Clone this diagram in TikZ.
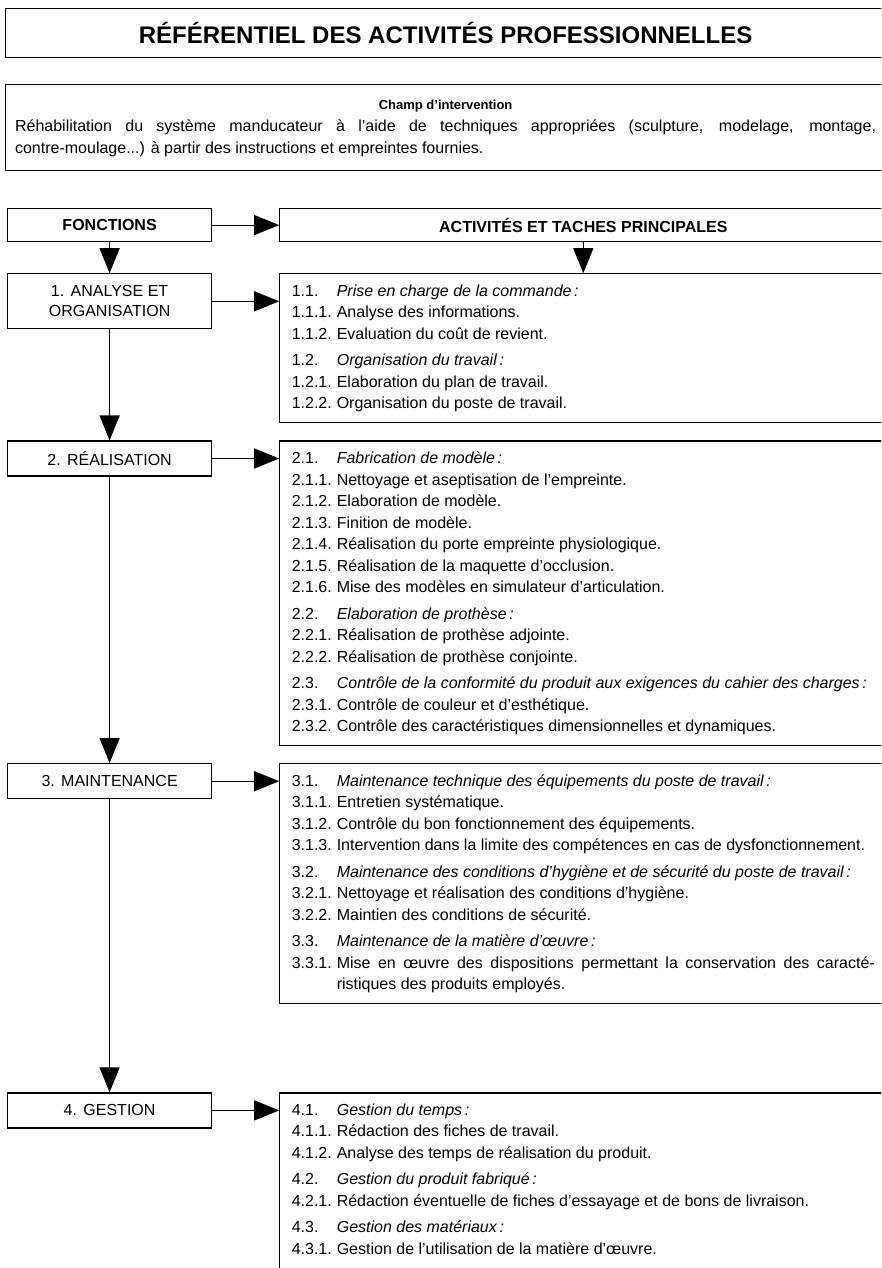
\documentclass[tikz,border=0pt]{standalone}
\usepackage{fontspec}
\setmainfont{Liberation Sans}
\usetikzlibrary{positioning, arrows.meta}
\tikzset{font={\fontsize{16pt}{21.5pt}\selectfont}}
\newcommand{\rubrique}[2]{\noindent\strut\makebox[45pt][l]{#1}\textit{#2}\par}
\newcommand{\tache}[2]{\hangindent=45pt\hangafter=1\noindent\strut\makebox[45pt][l]{#1}#2\strut\par}
\newcommand{\saut}{\vspace{5pt}}

\begin{document}
\begin{tikzpicture}[
  x=1pt, y=-1pt,
  node distance=31pt and 67pt,
  titre/.style={rectangle, draw, line width=1.2pt, anchor=north west, minimum width=880pt, minimum height=49pt, font=\fontsize{24pt}{26pt}\selectfont\bfseries},
  champ/.style={rectangle, draw, line width=1.2pt, anchor=north west, text width=861pt, inner xsep=9.5pt, inner ysep=10pt, align=justify, font=\fontsize{16pt}{22pt}\selectfont},
  entete/.style={rectangle, draw, line width=1.2pt, minimum height=33pt, font=\fontsize{16pt}{20pt}\selectfont\bfseries},
  fonction/.style={rectangle, draw, line width=1.2pt, minimum width=204pt, minimum height=35pt, align=center, font=\fontsize{16pt}{20pt}\selectfont},
  activite/.style={rectangle, draw, line width=1.2pt, anchor=north west, text width=583pt, inner xsep=12pt, inner ysep=7.5pt, align=justify},
  arr/.style={-{Triangle[length=25pt, width=20pt]}, line width=1.2pt}
]
\useasboundingbox (0,0) rectangle (881,1268);
\clip (0,0) rectangle (881,1268);

\node[titre] (titre) at (5,8) {RÉFÉRENTIEL DES ACTIVITÉS PROFESSIONNELLES};
\node[champ] (champ) at (5,84) {{\centering\fontsize{13pt}{22pt}\selectfont\bfseries\strut Champ d'intervention\par}
Réhabilitation du système manducateur à l'aide de techniques appropriées (sculpture, modelage, montage,\linebreak contre-moulage...) à partir des instructions et empreintes fournies.\strut};

\node[entete, minimum width=204pt, anchor=north west] (fonc) at (7,208) {FONCTIONS};
\node[entete, minimum width=607pt, right=of fonc] (act) {ACTIVITÉS ET TACHES PRINCIPALES};

\node[fonction, minimum height=55pt, below=31pt of fonc] (f1) {1.\hspace{0.4em}ANALYSE ET\\ORGANISATION};
\node[activite] (a1) at (f1.north -| act.west) {
\rubrique{1.1.}{Prise en charge de la commande\,:}
\tache{1.1.1.}{Analyse des informations.}
\tache{1.1.2.}{Evaluation du coût de revient.}
\saut
\rubrique{1.2.}{Organisation du travail\,:}
\tache{1.2.1.}{Elaboration du plan de travail.}
\tache{1.2.2.}{Organisation du poste de travail.}
};

\node[fonction, anchor=north] (f2) at ([yshift=-17pt]f1 |- a1.south) {2.\hspace{0.4em}RÉALISATION};
\node[activite] (a2) at (f2.north -| act.west) {
\rubrique{2.1.}{Fabrication de modèle\,:}
\tache{2.1.1.}{Nettoyage et aseptisation de l'empreinte.}
\tache{2.1.2.}{Elaboration de modèle.}
\tache{2.1.3.}{Finition de modèle.}
\tache{2.1.4.}{Réalisation du porte empreinte physiologique.}
\tache{2.1.5.}{Réalisation de la maquette d'occlusion.}
\tache{2.1.6.}{Mise des modèles en simulateur d'articulation.}
\saut
\rubrique{2.2.}{Elaboration de prothèse\,:}
\tache{2.2.1.}{Réalisation de prothèse adjointe.}
\tache{2.2.2.}{Réalisation de prothèse conjointe.}
\saut
\rubrique{2.3.}{Contrôle de la conformité du produit aux exigences du cahier des charges\,:}
\tache{2.3.1.}{Contrôle de couleur et d'esthétique.}
\tache{2.3.2.}{Contrôle des caractéristiques dimensionnelles et dynamiques.}
};

\node[fonction, anchor=north] (f3) at ([yshift=-17pt]f1 |- a2.south) {3.\hspace{0.4em}MAINTENANCE};
\node[activite] (a3) at (f3.north -| act.west) {
\rubrique{3.1.}{Maintenance technique des équipements du poste de travail\,:}
\tache{3.1.1.}{Entretien systématique.}
\tache{3.1.2.}{Contrôle du bon fonctionnement des équipements.}
\tache{3.1.3.}{Intervention dans la limite des compétences en cas de dysfonctionnement.}
\saut
\rubrique{3.2.}{Maintenance des conditions d'hygiène et de sécurité du poste de travail\,:}
\tache{3.2.1.}{Nettoyage et réalisation des conditions d'hygiène.}
\tache{3.2.2.}{Maintien des conditions de sécurité.}
\saut
\rubrique{3.3.}{Maintenance de la matière d'œuvre\,:}
\tache{3.3.1.}{Mise en œuvre des dispositions permettant la conservation des caracté-\linebreak ristiques des produits employés.}
};

\node[fonction, anchor=north] (f4) at ([yshift=-88pt]f1 |- a3.south) {4.\hspace{0.4em}GESTION};
\node[activite] (a4) at (f4.north -| act.west) {
\rubrique{4.1.}{Gestion du temps\,:}
\tache{4.1.1.}{Rédaction des fiches de travail.}
\tache{4.1.2.}{Analyse des temps de réalisation du produit.}
\saut
\rubrique{4.2.}{Gestion du produit fabriqué\,:}
\tache{4.2.1.}{Rédaction éventuelle de fiches d'essayage et de bons de livraison.}
\saut
\rubrique{4.3.}{Gestion des matériaux\,:}
\tache{4.3.1.}{Gestion de l'utilisation de la matière d'œuvre.}
\vspace*{40pt}
};

\draw[arr] (fonc) -- (act);
\draw[arr] (fonc) -- (f1);
\draw[arr] (act) -- (a1);
\draw[arr] (f1) -- (f2);
\draw[arr] (f2) -- (f3);
\draw[arr] (f3) -- (f4);
\draw[arr] (f1.east) -- (f1.east -| a1.west);
\draw[arr] (f2.east) -- (f2.east -| a2.west);
\draw[arr] (f3.east) -- (f3.east -| a3.west);
\draw[arr] (f4.east) -- (f4.east -| a4.west);
\end{tikzpicture}
\end{document}
